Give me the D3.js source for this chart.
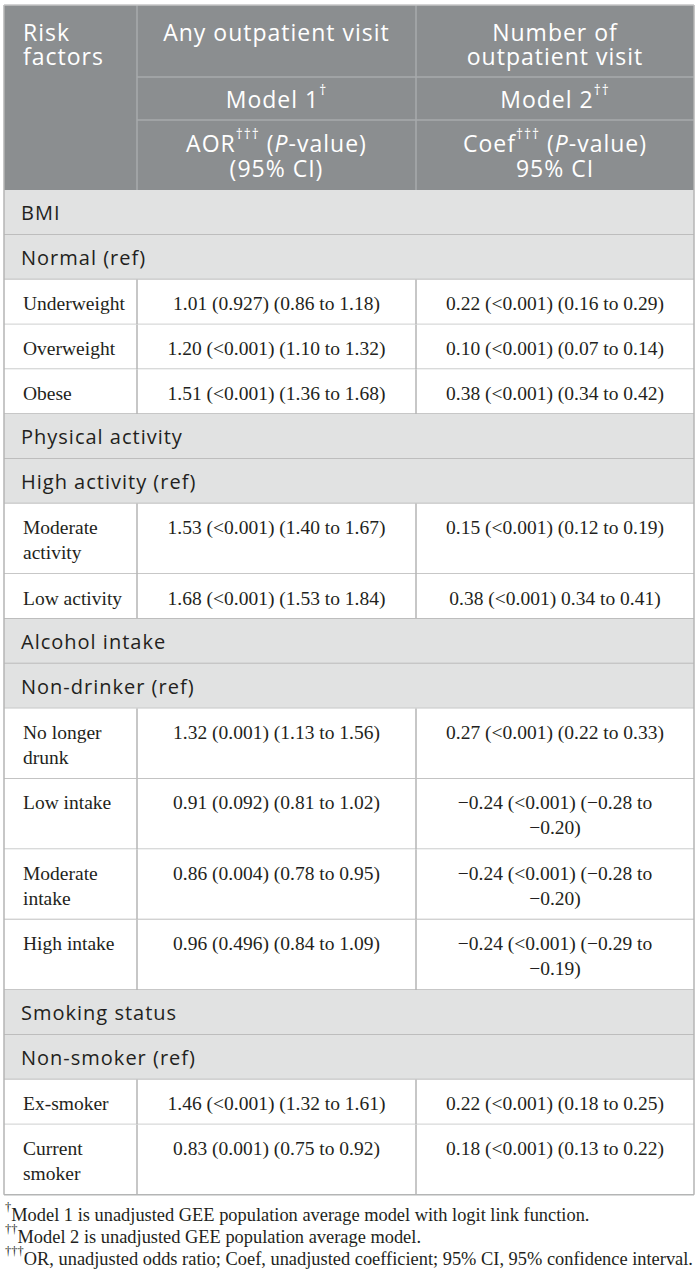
<!DOCTYPE html>
<html><head><meta charset="utf-8">
<script src="https://cdn.jsdelivr.net/npm/d3@7/dist/d3.min.js"></script>
<style>html,body{margin:0;padding:0;background:#fff;} svg{display:block}</style>
</head><body><svg id="c" width="700" height="1284"></svg>
<script>
// ---------- DATA ----------
const columnHeaders = ["Risk\nfactors", "Any outpatient visit", "Number of\noutpatient visit"];
const modelNames = ["Model 1", "Model 2"];
const modelMarks = ["†", "††"];
const statNames = ["AOR", "Coef"];
const statSecondLines = ["(95% CI)", "95% CI"];
const rowLabels = ["BMI", "Normal (ref)", "Underweight", "Overweight", "Obese",
  "Physical activity", "High activity (ref)", "Moderate\nactivity", "Low activity",
  "Alcohol intake", "Non-drinker (ref)", "No longer\ndrunk", "Low intake", "Moderate\nintake", "High intake",
  "Smoking status", "Non-smoker (ref)", "Ex-smoker", "Current\nsmoker"];
const rowKinds = ["group", "ref", "data", "data", "data",
  "group", "ref", "data", "data",
  "group", "ref", "data", "data", "data", "data",
  "group", "ref", "data", "data"];
const model1Results = [null, null, "1.01 (0.927) (0.86 to 1.18)", "1.20 (<0.001) (1.10 to 1.32)", "1.51 (<0.001) (1.36 to 1.68)",
  null, null, "1.53 (<0.001) (1.40 to 1.67)", "1.68 (<0.001) (1.53 to 1.84)",
  null, null, "1.32 (0.001) (1.13 to 1.56)", "0.91 (0.092) (0.81 to 1.02)", "0.86 (0.004) (0.78 to 0.95)", "0.96 (0.496) (0.84 to 1.09)",
  null, null, "1.46 (<0.001) (1.32 to 1.61)", "0.83 (0.001) (0.75 to 0.92)"];
const model2Results = [null, null, "0.22 (<0.001) (0.16 to 0.29)", "0.10 (<0.001) (0.07 to 0.14)", "0.38 (<0.001) (0.34 to 0.42)",
  null, null, "0.15 (<0.001) (0.12 to 0.19)", "0.38 (<0.001) 0.34 to 0.41)",
  null, null, "0.27 (<0.001) (0.22 to 0.33)", "\u22120.24 (<0.001) (\u22120.28 to\n\u22120.20)", "\u22120.24 (<0.001) (\u22120.28 to\n\u22120.20)", "\u22120.24 (<0.001) (\u22120.29 to\n\u22120.19)",
  null, null, "0.22 (<0.001) (0.18 to 0.25)", "0.18 (<0.001) (0.13 to 0.22)"];
const footnoteMarks = ["†", "††", "†††"];
const footnoteTexts = [
  "Model 1 is unadjusted GEE population average model with logit link function.",
  "Model 2 is unadjusted GEE population average model.",
  "OR, unadjusted odds ratio; Coef, unadjusted coefficient; 95% CI, 95% confidence interval."];

// ---------- STYLE ----------
const SANS = "'Open Sans', 'Noto Sans', sans-serif";
const SERIF = "'Liberation Serif', 'Times New Roman', serif";
const TEXT = "#231f20";
const HEAD_BG = "#8b8e90", HEAD_LINE = "#a7aaac";
const GROUP_BG = "#e1e2e2", GRID = "#b4b5b5";

const svg = d3.select("#c");
svg.append("rect").attr("width", 700).attr("height", 1284).attr("fill", "#fff");

// column edges
const colX = d3.scaleOrdinal().domain(["label", "m1", "m2", "end"]).range([4, 137, 416, 694]);
const colCenter = k => k === "m1" ? (colX("m1") + colX("m2")) / 2 : (colX("m2") + colX("end")) / 2;

// header rows
const headY = d3.scaleOrdinal().domain(["top", "model", "stat", "end"]).range([5, 77, 120, 190]);

// body rows: height in line units
const rowLines = rowLabels.map((l, i) => Math.max(l.split("\n").length,
  (model1Results[i] || "").split("\n").length, (model2Results[i] || "").split("\n").length));
const rowUnits = rowLines.map(n => 0.75 + n);
const cum = [0, ...Array.from(d3.cumsum(rowUnits))];
const y = d3.scaleLinear().domain([0, d3.sum(rowUnits)]).range([190, 190 + 25.6 * d3.sum(rowUnits)]);
const LINE = 25;

// header background
const head = svg.append("g");
head.append("rect").attr("x", colX("label")).attr("y", headY("top"))
  .attr("width", colX("end") - colX("label")).attr("height", headY("end") - headY("top")).attr("fill", HEAD_BG);
head.selectAll("line.hv").data(["m1", "m2"]).join("line")
  .attr("x1", d => colX(d)).attr("x2", d => colX(d)).attr("y1", headY("top")).attr("y2", headY("end"))
  .attr("stroke", HEAD_LINE).attr("stroke-width", 1.5);
head.selectAll("line.hh").data(["model", "stat"]).join("line")
  .attr("x1", colX("m1")).attr("x2", colX("end")).attr("y1", d => headY(d)).attr("y2", d => headY(d))
  .attr("stroke", HEAD_LINE).attr("stroke-width", 1.5);

function rich(sel, segs, size, supScale) {
  let raised = false;
  segs.forEach(([t, s]) => {
    const ts = sel.append("tspan").text(t);
    if (s === "sup") {
      ts.attr("font-size", size * (supScale || 0.6)).attr("dy", -size * 0.42);
      raised = true;
    } else {
      if (raised) { ts.attr("dy", size * 0.42); raised = false; }
      if (s === "it") ts.attr("font-style", "italic");
    }
  });
}

const HS = 23;
function headText(x, cy, anchor) {
  return head.append("text").attr("x", x).attr("y", cy).attr("text-anchor", anchor)
    .attr("dominant-baseline", "central").attr("font-family", SANS).attr("font-size", HS)
    .attr("fill", "#fff").style("letter-spacing", "1px");
}
// top header row (one text element per cell, lines as tspans)
columnHeaders.forEach((h, i) => {
  const x = i === 0 ? 23 : colCenter(i === 1 ? "m1" : "m2");
  const t = headText(x, 32, i === 0 ? "start" : "middle");
  h.split("\n").forEach((ln, j) => {
    t.append("tspan").attr("x", x).attr("y", 32 + j * 23.5).text(ln);
  });
});
// model row
modelNames.forEach((m, i) => {
  const t = headText(colCenter(i === 0 ? "m1" : "m2"), 98.5, "middle");
  rich(t, [[m, ""], [modelMarks[i], "sup"]], HS);
});
// stat row
statNames.forEach((s, i) => {
  const cx = colCenter(i === 0 ? "m1" : "m2");
  const t1 = headText(cx, 143, "middle");
  rich(t1, [[s, ""], ["†††", "sup"], [" (", ""], ["P", "it"], ["-value)", ""]], HS);
  t1.append("tspan").attr("x", cx).attr("y", 167.5).text(statSecondLines[i]);
});

// body
const body = svg.append("g");
const rows = body.selectAll("g.row").data(rowLabels.map((l, i) => ({
  label: l, kind: rowKinds[i], m1: model1Results[i], m2: model2Results[i],
  top: y(cum[i]), bottom: y(cum[i + 1])
}))).join("g").attr("class", "row");

rows.append("rect").attr("x", colX("label")).attr("y", d => d.top)
  .attr("width", colX("end") - colX("label")).attr("height", d => d.bottom - d.top)
  .attr("fill", d => d.kind === "data" ? "#fff" : GROUP_BG);

// vertical dividers for data rows
rows.filter(d => d.kind === "data").selectAll("line.v").data(d => ["m1", "m2"].map(k => ({k, d}))).join("line")
  .attr("x1", o => colX(o.k)).attr("x2", o => colX(o.k)).attr("y1", o => o.d.top).attr("y2", o => o.d.bottom)
  .attr("stroke", GRID).attr("stroke-width", 1.5);

// horizontal row bottoms
rows.append("line").attr("x1", colX("label")).attr("x2", colX("end"))
  .attr("y1", d => d.bottom).attr("y2", d => d.bottom).attr("stroke", GRID).attr("stroke-width", 1.5);

// outer body borders
const bodyBottom = y(d3.sum(rowUnits));
body.selectAll("line.outer").data(["label", "end"]).join("line")
  .attr("x1", d => colX(d)).attr("x2", d => colX(d)).attr("y1", headY("top")).attr("y2", bodyBottom)
  .attr("stroke", GRID).attr("stroke-width", 1.5);
body.append("line").attr("x1", colX("label")).attr("x2", colX("end")).attr("y1", headY("top")).attr("y2", headY("top"))
  .attr("stroke", "#c4c5c6").attr("stroke-width", 1.5);

// group / ref labels
rows.filter(d => d.kind !== "data").append("text")
  .attr("x", 21).attr("y", d => d.top + 22.5).attr("dominant-baseline", "central")
  .attr("font-family", SANS).attr("font-size", 20).attr("fill", TEXT).style("letter-spacing", "1px")
  .text(d => d.label);

// data text
function multi(sel, accessor, xf, anchor) {
  sel.append("text").attr("text-anchor", anchor).attr("dominant-baseline", "central")
    .attr("font-family", SERIF).attr("font-size", 19.5).attr("fill", TEXT)
    .each(function (d) {
      const t = d3.select(this);
      accessor(d).split("\n").forEach((ln, j) => {
        t.append("tspan").attr("x", xf).attr("y", d.top + 23.5 + j * LINE).text(ln);
      });
    });
}
const dataRows = rows.filter(d => d.kind === "data");
multi(dataRows, d => d.label, 23, "start");
multi(dataRows, d => d.m1, colCenter("m1"), "middle");
multi(dataRows, d => d.m2, colCenter("m2"), "middle");

// footnotes
const fn = svg.append("g");
footnoteTexts.forEach((t, i) => {
  const tx = fn.append("text").attr("x", 5).attr("y", 1215 + i * 22).attr("dominant-baseline", "central")
    .attr("font-family", SERIF).attr("font-size", 18.4).attr("fill", TEXT);
  rich(tx, [[footnoteMarks[i], "sup"], [t, ""]], 18.4, 0.68);
});
</script></body></html>
